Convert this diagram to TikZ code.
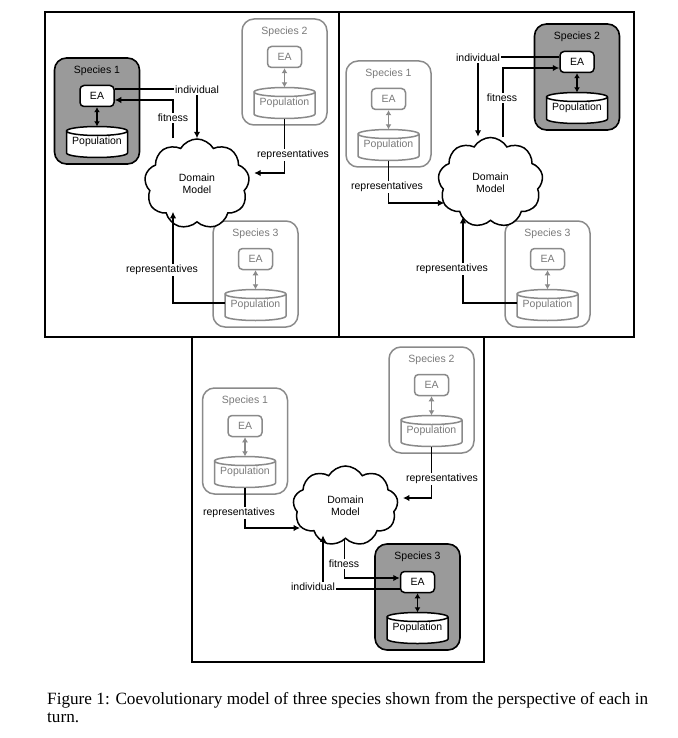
\documentclass[tikz,border=0pt]{standalone}
\usepackage{fontspec}
\setmainfont{Liberation Serif}
\newfontfamily\arialf{Liberation Sans}
\usetikzlibrary{shapes.symbols,arrows.meta,calc}
\definecolor{darkfill}{HTML}{9A9A9A}
\definecolor{offc}{HTML}{8A8A8A}
\definecolor{offt}{HTML}{7A7A7A}
\tikzset{
  panelframe/.style={draw=black,line width=2pt},
  boxon/.style={draw=black,fill=darkfill,line width=1.6pt,rounded corners=12pt},
  boxoff/.style={draw=offc,fill=white,line width=1.5pt,rounded corners=12pt},
  labon/.style={text=black,inner sep=1pt},
  laboff/.style={text=offt,inner sep=1pt},
  eabase/.style={fill=white,line width=1.5pt,rounded corners=4pt,minimum width=34pt,minimum height=21pt,inner sep=0pt},
  eaon/.style={eabase,draw=black,text=black},
  eaoff/.style={eabase,draw=offc,text=offt},
  cylon/.style={draw=black,fill=white,line width=1.5pt},
  cyloff/.style={draw=offc,fill=white,line width=1.5pt},
  popon/.style={text=black,minimum width=61pt,minimum height=22pt,inner sep=0pt},
  popoff/.style={text=offt,minimum width=61pt,minimum height=22pt,inner sep=0pt},
  dblon/.style={{Latex[length=5pt,width=6pt]}-{Latex[length=5pt,width=6pt]},line width=1.5pt,draw=black},
  dbloff/.style={{Latex[length=5pt,width=6pt]}-{Latex[length=5pt,width=6pt]},line width=1.5pt,draw=offc},
  arr/.style={-{Latex[length=6.5pt,width=6.5pt]},line width=1.5pt},
  lbl/.style={fill=white,inner sep=1.5pt},
  cloudn/.style={cloud,cloud puffs=9,cloud puff arc=120,aspect=1.15,draw,line width=1.5pt,fill=white,align=center,minimum width=105pt,minimum height=90pt,inner sep=0pt},
  captext/.style={anchor=base west,inner sep=0pt,font=\rmfamily\fontsize{17.2}{18}\selectfont}
}
\newcommand{\spec}[5]{%
  \node[box#4,minimum width=85pt,minimum height=106pt] (#1) at (#2,#3+53) {};
  \node[lab#4] (#1t) at (#2,#3+13) {Species #5};
  \node[ea#4] (#1e) at (#2,#3+38) {EA};
  \path[cyl#4] (#2-30.5,#3+73) -- (#2-30.5,#3+95)
    arc[start angle=180,end angle=360,x radius=30.5pt,y radius=4.5pt]
    -- (#2+30.5,#3+73)
    arc[start angle=0,end angle=180,x radius=30.5pt,y radius=4.5pt]
    arc[start angle=180,end angle=360,x radius=30.5pt,y radius=4.5pt];
  \node[pop#4] (#1p) at (#2,#3+84) {Population};
  \draw[dbl#4] (#1e.south) -- ([yshift=4.5pt]#1p.north);
}
\begin{document}
\begin{tikzpicture}[x=1pt,y=-1pt,font=\arialf\fontsize{10.5}{12}\selectfont]
\useasboundingbox (0,0) rectangle (677,738);

% ---------- panel 1 ----------
\draw[panelframe] (45,12) rectangle (339,337);
\spec{pA1}{97}{58}{on}{1}
\spec{pA2}{284.5}{19}{off}{2}
\spec{pA3}{255.5}{221}{off}{3}
\node[cloudn] (DA) at (197,184) {Domain\\Model};
\draw[arr] ([yshift=7pt]pA1e.east) -| (DA.north);
\draw[arr] ($(DA.north)+(-24,0)$) |- ([yshift=-4pt]pA1e.east);
\draw[arr] ([yshift=-4.5pt]pA2p.south) |- ($(DA.east)+(5,-11)$);
\draw[arr] ([yshift=2pt]pA3p.west) -| ($(DA.south)+(-24,-11)$);
\node[lbl] (lA1) at (197,89.5) {individual};
\node[lbl] (lA2) at (173,118) {fitness};
\node[lbl] (lA3) at (293,155) {representatives};
\node[lbl] (lA4) at (162,270) {representatives};

% ---------- panel 2 ----------
\draw[panelframe] (339,12) rectangle (634,337);
\spec{pB2}{577}{24}{on}{2}
\spec{pB1}{388.5}{61}{off}{1}
\spec{pB3}{547.5}{221}{off}{3}
\node[cloudn] (DB) at (490.5,182.5) {Domain\\Model};
\draw[arr] ([yshift=5pt]pB2e.west) -| ($(DB.north)+(-12.5,0)$);
\draw[arr] ($(DB.north)+(12.5,0)$) |- ([yshift=-6pt]pB2e.west);
\draw[arr] ([yshift=-4.5pt]pB1p.south) |- ($(DB.west)+(6,20.5)$);
\draw[arr] ([yshift=2pt]pB3p.west) -| ($(DB.south)+(-27.5,-4.5)$);
\node[lbl] (lB1) at (478,57.5) {individual};
\node[lbl] (lB2) at (502,98) {fitness};
\node[lbl] (lB3) at (387,187) {representatives};
\node[lbl] (lB4) at (452,269) {representatives};

% ---------- panel 3 ----------
\draw[panelframe] (192,337) rectangle (484,662);
\spec{pC1}{245}{388}{off}{1}
\spec{pC2}{431.5}{347}{off}{2}
\spec{pC3}{417.5}{544}{on}{3}
\node[cloudn,minimum height=80pt] (DC) at (345.5,506) {Domain\\Model};
\draw[arr] ([yshift=-4.5pt]pC1p.south) |- ($(DC.west)+(7,22)$);
\draw[arr] ([yshift=-4.5pt]pC2p.south) |- ($(DC.east)+(5,-8)$);
\draw[arr] ($(DC.south)+(-1,0)$) |- ([yshift=4pt]pC3e.west);
\draw[arr] ([yshift=-7pt]pC3e.west) -| ($(DC.south)+(-22.5,-4)$);
\node[lbl] (lC1) at (239,513) {representatives};
\node[lbl] (lC2) at (442,479) {representatives};
\node[lbl] (lC3) at (344,564) {fitness};
\node[lbl] (lC4) at (313,587) {individual};

% ---------- caption ----------
\node[captext] (cap1) at (47,704) {Figure 1: Coevolutionary model of three species shown from the perspective of each in};
\node[captext] (cap2) at (47,722) {turn.};
\end{tikzpicture}
\end{document}
